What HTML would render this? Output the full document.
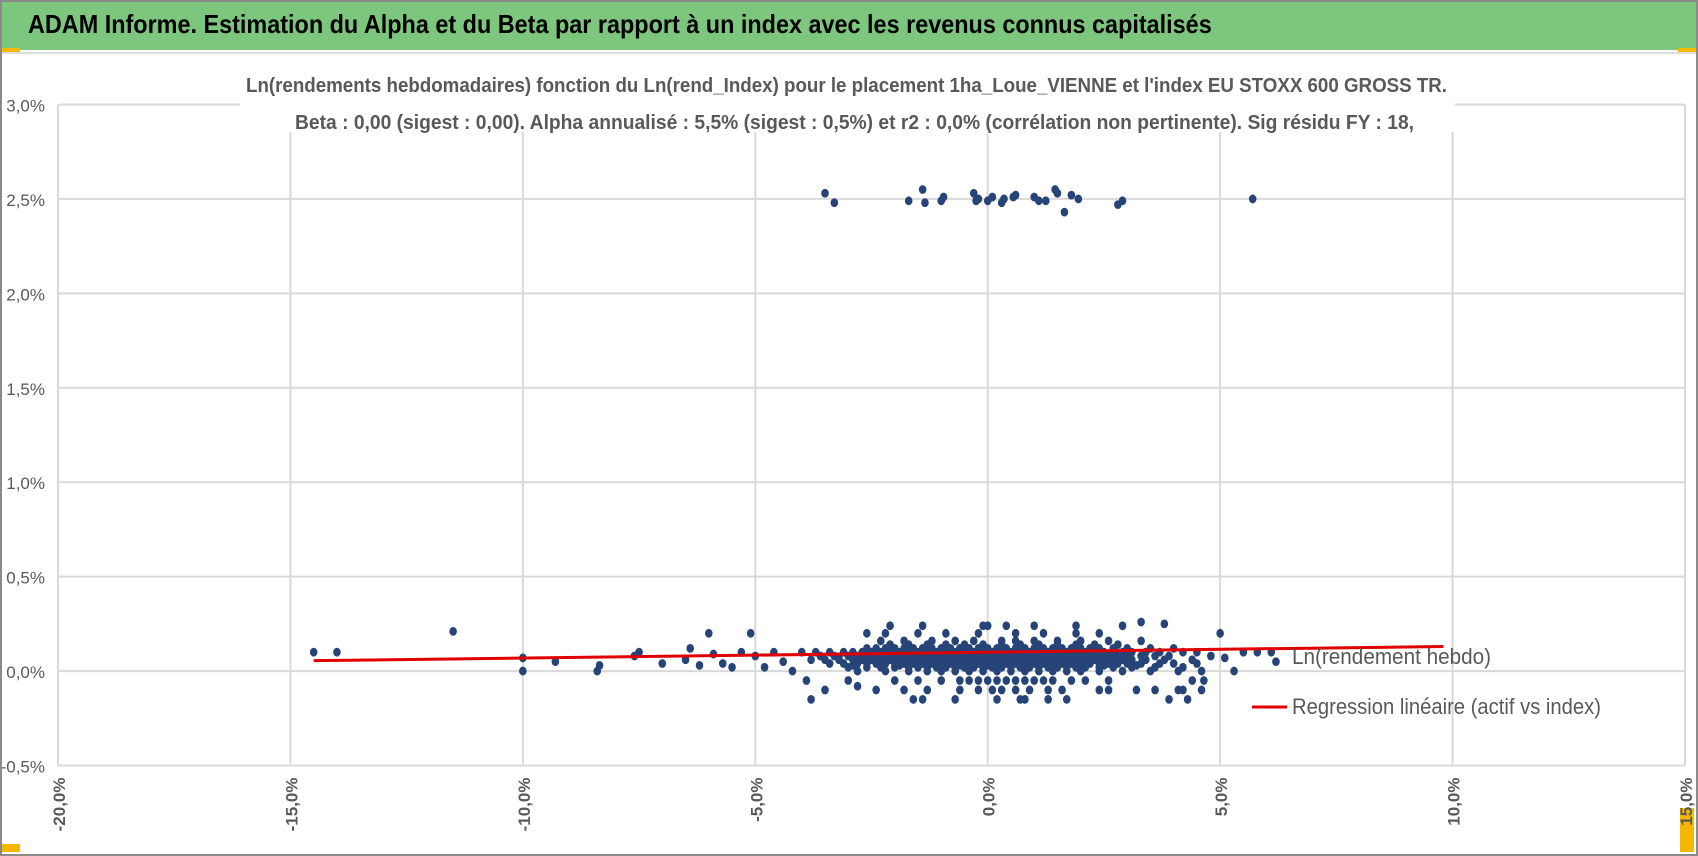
<!DOCTYPE html>
<html><head><meta charset="utf-8"><style>
html,body{margin:0;padding:0;background:#fff;}
#wrap{position:relative;width:1698px;height:856px;overflow:hidden;background:#fff;box-sizing:border-box;border:2px solid #8a8a8a;}
#bar{position:absolute;left:0;top:0;width:1698px;height:48px;background:#7dc67d;}
#bar span{position:absolute;left:26px;top:7px;font:bold 26px "Liberation Sans",sans-serif;color:#000;white-space:nowrap;transform:scaleX(0.9);transform-origin:0 0;}
.t{font-family:"Liberation Sans",sans-serif;}
</style></head><body>
<div id="wrap">
<div id="bar"><span>ADAM Informe. Estimation du Alpha et du Beta par rapport à un index avec les revenus connus capitalisés</span></div>
<div style="position:absolute;left:0;top:46px;width:18px;height:6px;background:#f5b800"></div>
<div style="position:absolute;right:0;top:46px;width:18px;height:6px;background:#f5b800"></div>
<div style="position:absolute;left:0;bottom:2px;width:18px;height:8px;background:#f5b800"></div>
<div style="position:absolute;right:2px;bottom:2px;width:14px;height:44px;background:#f5b800"></div>
<div style="position:absolute;left:0;top:50px;width:1698px;height:2px;background:#ddd"></div>
<svg id="chart" width="1698" height="856" style="position:absolute;left:-2px;top:-2px"></svg>
</div>
<script>
const xTicks=[-20,-15,-10,-5,0,5,10,15];
const yTicks=[-0.5,0,0.5,1,1.5,2,2.5,3];
const topX=[-3.5,-3.3,-1.7,-1.4,-1.35,-1.0,-0.95,-0.3,-0.25,-0.2,0,0.1,0.3,0.35,0.55,0.6,1.0,1.1,1.25,1.45,1.5,1.65,1.8,1.95,2.8,2.9,5.7];
const topY=[2.53,2.48,2.49,2.55,2.48,2.49,2.51,2.53,2.49,2.5,2.49,2.51,2.48,2.5,2.51,2.52,2.51,2.49,2.49,2.55,2.53,2.43,2.52,2.5,2.47,2.49,2.5];
const outX=[-14.5,-14,-11.5,-10,-10,-9.3,-8.4,-8.35,-7.6,-7.5,-7,-6.5,-6.4,-6.2,-6,-5.9,-5.7,-5.5,-5.3,-5.1,-5,-4.8,-4.6,-4.4,-4.2,-3.9,-3.8,-3.5,-3.0,-2.8,-2.2,-1.6,3.2,3.3,3.8,4.1,4.3,4.6,4.65,4.8,5,5.1,5.3,5.5,5.8,6.1,6.2];
const outY=[0.1,0.1,0.21,0.07,0,0.05,0,0.03,0.08,0.1,0.04,0.06,0.12,0.03,0.2,0.09,0.04,0.02,0.1,0.2,0.08,0.02,0.1,0.05,0,-0.05,-0.15,-0.1,-0.05,-0.08,0.2,-0.15,-0.1,0.26,0.25,-0.1,-0.15,-0.1,-0.05,0.08,0.2,0.07,0,0.1,0.1,0.1,0.05];
const rowLevels=[0.12,0.10,0.08,0.06,0.04,0.02,0.0,-0.05,-0.1,-0.15,0.16,0.2,0.24,0.14,0.07,0.03];
const rowX=[
[-2.6,-2.4,-2.2,-2.0,-1.8,-1.6,-1.4,-1.2,-1.0,-0.8,-0.6,-0.4,-0.2,0,0.2,0.4,0.6,0.8,1.0,1.2,1.4,1.6,1.8,2.0,2.2,2.4,2.7,3.0,3.5,4.0],
[-4.0,-3.7,-3.4,-3.1,-2.9,-2.7,-2.5,-2.3,-2.1,-1.9,-1.7,-1.5,-1.3,-1.1,-0.9,-0.7,-0.5,-0.3,-0.1,0.1,0.3,0.5,0.7,0.9,1.1,1.3,1.5,1.7,1.9,2.1,2.3,2.5,2.7,2.9,3.1,3.4,3.7,4.2,4.5],
[-3.6,-3.3,-3.0,-2.8,-2.6,-2.4,-2.2,-2.0,-1.8,-1.6,-1.4,-1.2,-1.0,-0.8,-0.6,-0.4,-0.2,0,0.2,0.4,0.6,0.8,1.0,1.2,1.4,1.6,1.8,2.0,2.2,2.4,2.6,2.8,3.0,3.3,3.6,3.9],
[-3.8,-3.5,-3.2,-2.9,-2.7,-2.5,-2.3,-2.1,-1.9,-1.7,-1.5,-1.3,-1.1,-0.9,-0.7,-0.5,-0.3,-0.1,0.1,0.3,0.5,0.7,0.9,1.1,1.3,1.5,1.7,1.9,2.1,2.3,2.5,2.7,2.9,3.1,3.4,3.8,4.4],
[-3.4,-3.1,-2.8,-2.6,-2.4,-2.2,-2.0,-1.8,-1.6,-1.4,-1.2,-1.0,-0.8,-0.6,-0.4,-0.2,0,0.2,0.4,0.6,0.8,1.0,1.2,1.4,1.6,1.8,2.0,2.2,2.4,2.6,2.8,3.0,3.3,3.7,4.0,4.5],
[-3.0,-2.6,-2.3,-2.0,-1.7,-1.5,-1.3,-1.1,-0.9,-0.7,-0.5,-0.3,-0.1,0.1,0.3,0.5,0.7,0.9,1.1,1.3,1.5,1.7,1.9,2.1,2.4,2.7,3.1,3.6,4.2],
[-2.8,-2.2,-1.7,-1.3,-1.0,-0.7,-0.4,-0.1,0.2,0.5,0.8,1.1,1.4,1.7,2.0,2.4,2.9,3.5,4.1,4.6],
[-2.0,-1.5,-1.0,-0.6,-0.4,-0.2,0,0.2,0.4,0.6,0.8,1.0,1.2,1.4,1.8,2.1,2.6,4.4],
[-2.4,-1.8,-1.3,-0.6,-0.2,0.1,0.3,0.6,0.9,1.3,1.6,2.4,2.6,3.6,4.2],
[-1.4,-0.7,0.2,0.7,0.8,1.3,1.7,3.9],
[-2.3,-1.8,-1.2,-0.7,-0.3,0.3,0.6,1.0,1.5,2.0,2.6,3.3],
[-2.6,-1.5,-0.9,-0.2,0.6,1.2,1.9,2.4],
[-2.1,-1.4,-0.1,0,0.4,1.0,1.9,2.9],
[-2.1,-1.7,-1.3,-0.9,-0.5,-0.1,0.3,0.7,1.1,1.5,1.9,2.3,2.8],
[-3.2,-2.5,-2.1,-1.5,-1.1,-0.5,-0.2,0.4,0.9,1.3,1.7,2.2,2.6,3.0],
[-2.9,-2.3,-1.9,-1.1,-0.6,0,0.5,0.9,1.5,1.9,2.5,3.2]
];
const regX=[-14.5,9.8];
const regY=[0.055,0.13];

const svg=document.getElementById('chart');
const NS='http://www.w3.org/2000/svg';
const L=58,R=1685,T=104.5,B=765.5;
function X(v){return L+(v+20)/35*(R-L);}
function Y(v){return B-(v+0.5)/3.5*(B-T);}
function mk(tag,at,parent){const e=document.createElementNS(NS,tag);for(const k in at)e.setAttribute(k,at[k]);(parent||svg).appendChild(e);return e;}
const fmt=v=>v.toFixed(1).replace('.',',')+'%';
const grid=mk('g',{});


yTicks.forEach(v=>{
  const ln=mk('line',{x1:L,x2:R,y1:Y(v),y2:Y(v),stroke:'#d9d9d9','stroke-width':2},grid);
  
  
  const t=mk('text',{x:45,y:Y(v)+7,'text-anchor':'end','font-size':17,fill:'#595959',class:'t'});
  t.textContent=fmt(v);
  
  
});
xTicks.forEach(v=>{
  const ln=mk('line',{x1:X(v),x2:X(v),y1:T,y2:B,stroke:'#d9d9d9','stroke-width':2},grid);
  
  
  const t=mk('text',{x:0,y:0,'text-anchor':'end','font-size':17,'font-weight':'bold',fill:'#595959',class:'t',transform:`translate(${X(v)+7},${B+12}) rotate(-90)`});
  t.textContent=fmt(v);
  
  
});
mk('rect',{x:240,y:70,width:1215,height:62,fill:'#fff'});
const t1=mk('text',{x:246,y:92,'font-size':20,fill:'#595959',class:'t','font-weight':'bold',textLength:1201,lengthAdjust:'spacingAndGlyphs'});
t1.textContent="Ln(rendements hebdomadaires) fonction du Ln(rend_Index) pour le placement 1ha_Loue_VIENNE et l'index EU STOXX 600 GROSS TR.";


const t2=mk('text',{x:295,y:129,'font-size':20,fill:'#595959',class:'t','font-weight':'bold',textLength:1119,lengthAdjust:'spacingAndGlyphs'});
t2.textContent="Beta : 0,00 (sigest : 0,00). Alpha annualisé : 5,5% (sigest : 0,5%) et r2 : 0,0% (corrélation non pertinente). Sig résidu FY : 18,";



const pts=mk('g',{fill:'#264478'});


function dot(x,y){const c=mk('ellipse',{cx:X(x),cy:Y(y),rx:3.8,ry:4.4},pts);

}
topX.forEach((x,i)=>dot(x,topY[i]));
outX.forEach((x,i)=>dot(x,outY[i]));
rowLevels.forEach((lv,i)=>rowX[i].forEach(x=>dot(x,lv)));

const reg=mk('line',{x1:X(regX[0]),y1:Y(regY[0]),x2:X(regX[1]),y2:Y(regY[1]),stroke:'#e00000','stroke-width':3});



const lg=mk('g',{});


const l1=mk('text',{x:1292,y:664,'font-size':22,fill:'#595959',class:'t',textLength:199,lengthAdjust:'spacingAndGlyphs'},lg);
l1.textContent='Ln(rendement hebdo)';


const lm=mk('line',{x1:1252,x2:1287,y1:707,y2:707,stroke:'#e00000','stroke-width':3},lg);


const l2=mk('text',{x:1292,y:714,'font-size':22,fill:'#595959',class:'t',textLength:309,lengthAdjust:'spacingAndGlyphs'},lg);
l2.textContent='Regression linéaire (actif vs index)';


</script>
</body></html>
